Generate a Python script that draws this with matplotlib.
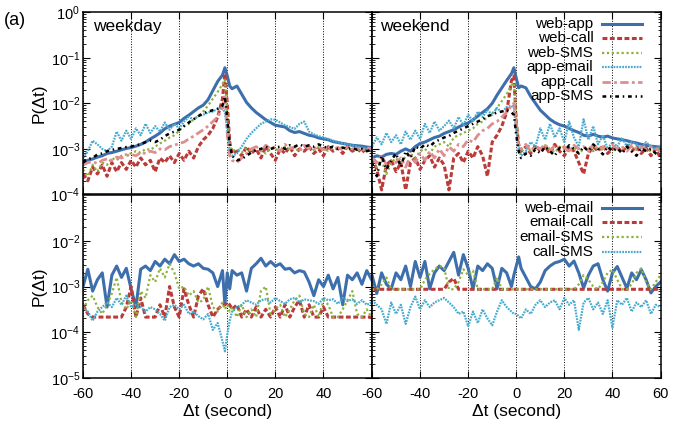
import numpy as np
import matplotlib.pyplot as plt
from matplotlib.ticker import LogLocator, NullFormatter, LogFormatterMathtext

plt.rcParams['font.family'] = ['Liberation Sans', 'DejaVu Sans']
plt.rcParams['mathtext.fontset'] = 'custom'
plt.rcParams['mathtext.rm'] = 'Liberation Sans'
plt.rcParams['mathtext.it'] = 'Liberation Sans:italic'
plt.rcParams['axes.unicode_minus'] = False

# time lag (s): every 2 s, plus -1 and 1 around the peak
dt = np.r_[np.arange(-60, -1, 2), -1, 0, 1, np.arange(2, 61, 2)]

# values are log10 P(dt)
# ---- weekday, top
wd_web_app = [-3.30, -3.25, -3.22, -3.18, -3.15, -3.10, -3.08, -3.05, -3.02, -2.99, -2.97, -2.94, -2.90, -2.85, -2.78,
              -2.72, -2.65, -2.56, -2.50, -2.46, -2.42, -2.33, -2.26, -2.18, -2.10, -2.04, -1.92, -1.72, -1.52, -1.38,
              -1.22, -1.40, -1.62,
              -1.68, -1.62, -1.80, -1.98, -2.10, -2.20, -2.28, -2.36, -2.42, -2.48, -2.50, -2.52, -2.60, -2.64, -2.62,
              -2.66, -2.70, -2.72, -2.76, -2.78, -2.80, -2.84, -2.86, -2.88, -2.90, -2.92, -2.93, -2.94, -2.96, -2.97]
wd_web_call = [-3.55, -3.70, -3.40, -3.55, -3.35, -3.60, -3.30, -3.50, -3.30, -3.45, -3.25, -3.40, -3.20, -3.35, -3.25,
               -3.50, -3.20, -3.30, -3.15, -3.30, -3.10, -3.25, -3.05, -3.20, -2.95, -2.80, -2.70, -2.55, -2.30, -1.90,
               -1.35, -2.00, -2.85,
               -3.10, -3.05, -3.15, -2.95, -3.10, -3.00, -3.20, -2.95, -3.10, -3.25, -3.00, -3.10, -2.95, -3.15, -3.00,
               -3.05, -2.95, -3.10, -3.00, -3.15, -2.95, -3.05, -2.98, -3.10, -2.95, -3.05, -3.00, -3.08, -2.98, -3.05]
wd_web_sms = [-3.45, -3.60, -3.35, -3.50, -3.30, -3.35, -3.20, -3.25, -3.15, -3.12, -3.10, -3.05, -3.08, -3.00, -3.02,
              -2.95, -2.88, -2.82, -2.75, -2.70, -2.60, -2.50, -2.45, -2.35, -2.28, -2.18, -2.05, -1.90, -1.75, -1.58,
              -1.48, -2.20, -2.90,
              -3.05, -3.00, -3.08, -2.98, -3.05, -2.95, -3.02, -3.10, -2.98, -3.00, -3.05, -2.95, -3.02, -2.98, -3.05,
              -2.95, -3.00, -3.02, -2.96, -3.00, -3.04, -2.98, -3.00, -2.96, -3.02, -2.98, -3.00, -3.04, -2.98, -3.02]
wd_app_email = [-3.20, -3.05, -2.82, -2.90, -3.00, -3.05, -2.95, -2.62, -2.82, -2.60, -2.78, -2.55, -2.70, -2.45, -2.65,
                -2.50, -2.62, -2.42, -2.58, -2.45, -2.55, -2.40, -2.30, -2.35, -2.28, -2.25, -2.20, -2.18, -2.12, -2.10,
                -2.20, -2.60, -3.05,
                -3.15, -3.10, -2.95, -2.78, -2.65, -2.55, -2.45, -2.40, -2.35, -2.36, -2.42, -2.48, -2.52, -2.56, -2.45,
                -2.40, -2.62, -2.68, -2.72, -2.75, -2.78, -2.82, -2.85, -2.88, -2.90, -2.92, -2.95, -2.97, -3.00, -3.02]
wd_app_call = [-3.35, -3.30, -3.28, -3.32, -3.25, -3.22, -3.25, -3.18, -3.20, -3.15, -3.12, -3.15, -3.08, -3.10, -3.05,
               -3.08, -3.00, -3.02, -2.95, -2.92, -2.88, -2.85, -2.78, -2.72, -2.65, -2.58, -2.50, -2.40, -2.30, -2.10,
               -1.80, -2.70, -3.15,
               -3.25, -3.30, -3.20, -3.10, -3.00, -2.95, -3.05, -2.92, -3.00, -2.95, -3.05, -2.90, -3.00, -2.95, -3.02,
               -2.92, -2.98, -3.00, -2.95, -3.02, -2.95, -3.00, -2.97, -3.02, -2.96, -3.00, -2.98, -3.03, -2.97, -3.00]
wd_app_sms = [-3.30, -3.22, -3.20, -3.12, -3.10, -3.05, -3.02, -3.00, -2.98, -2.96, -2.95, -2.92, -2.90, -2.85, -2.82,
              -2.85, -2.80, -2.72, -2.66, -2.62, -2.58, -2.50, -2.42, -2.35, -2.28, -2.22, -2.18, -2.15, -2.12, -2.05,
              -1.85, -2.35, -2.90,
              -3.15, -3.25, -3.22, -3.15, -3.08, -3.02, -3.00, -2.95, -3.00, -2.97, -2.95, -3.00, -2.92, -2.95, -2.90,
              -2.95, -2.92, -2.95, -2.90, -2.95, -2.98, -2.95, -3.00, -2.97, -3.00, -2.98, -3.02, -3.00, -3.05, -3.02]

# ---- weekend, top
we_web_app = [-3.20, -3.15, -3.18, -3.12, -3.10, -3.12, -3.05, -3.00, -3.05, -2.95, -2.88, -2.85, -2.80, -2.75, -2.72,
              -2.66, -2.62, -2.58, -2.52, -2.47, -2.43, -2.36, -2.28, -2.20, -2.12, -2.00, -1.82, -1.66, -1.50, -1.35,
              -1.22, -1.45, -1.66,
              -1.62, -1.66, -1.85, -2.00, -2.15, -2.25, -2.35, -2.42, -2.47, -2.50, -2.55, -2.60, -2.64, -2.70, -2.72,
              -2.68, -2.72, -2.74, -2.72, -2.76, -2.78, -2.80, -2.82, -2.85, -2.87, -2.90, -2.92, -2.94, -2.95, -2.97]
we_web_call = [-3.20, -3.45, -3.90, -3.35, -3.25, -3.50, -3.30, -3.90, -3.30, -3.20, -3.45, -3.25, -3.15, -3.40, -3.20,
               -3.35, -3.90, -3.20, -3.10, -3.30, -3.05, -3.20, -2.95, -3.15, -3.60, -2.85, -2.70, -2.50, -2.20, -1.50,
               -1.40, -2.40, -2.90,
               -3.05, -2.95, -3.10, -2.92, -3.05, -2.95, -3.10, -2.90, -3.05, -3.15, -2.95, -3.05, -3.30, -3.55, -3.10,
               -2.95, -3.05, -2.92, -3.10, -3.00, -2.95, -3.08, -2.92, -3.05, -2.95, -3.10, -2.98, -3.15, -3.00, -3.20]
we_web_sms = [-3.30, -3.40, -3.25, -3.55, -3.30, -3.20, -3.35, -3.15, -3.10, -3.20, -3.05, -3.00, -3.10, -2.95, -2.90,
              -2.85, -2.95, -2.75, -2.70, -2.65, -2.60, -2.55, -2.45, -2.40, -2.30, -2.22, -2.10, -1.95, -1.80, -1.60,
              -1.55, -2.30, -2.95,
              -3.05, -2.98, -3.05, -2.95, -3.02, -2.92, -3.00, -3.08, -2.95, -3.00, -3.05, -2.95, -3.10, -3.00, -2.95,
              -3.05, -2.98, -3.02, -2.95, -3.00, -3.05, -2.97, -3.00, -2.95, -3.02, -2.98, -3.00, -3.05, -2.97, -3.00]
we_app_email = [-2.95, -2.75, -2.90, -2.65, -2.85, -2.70, -2.90, -2.62, -2.80, -2.60, -2.78, -2.45, -2.65, -2.40, -2.60,
                -2.50, -2.38, -2.55, -2.30, -2.48, -2.25, -2.40, -2.18, -2.30, -2.15, -2.25, -2.10, -2.20, -2.08, -2.05,
                -2.10, -2.60, -3.00,
                -3.15, -3.05, -2.85, -2.95, -2.55, -2.80, -2.45, -2.75, -2.55, -2.85, -2.40, -2.75, -2.95, -2.35, -2.80,
                -2.50, -2.90, -2.70, -3.00, -2.85, -2.95, -2.75, -2.95, -2.85, -2.90, -3.00, -2.85, -2.95, -3.00, -2.92]
we_app_call = [-3.20, -3.30, -3.15, -3.35, -3.25, -3.30, -3.20, -3.40, -3.15, -3.30, -3.10, -3.25, -3.05, -3.20, -3.00,
               -3.15, -2.95, -3.05, -2.90, -2.95, -2.80, -2.85, -2.70, -2.60, -2.55, -2.45, -2.40, -2.30, -2.20, -2.05,
               -2.00, -2.45, -2.95,
               -3.00, -2.90, -3.05, -2.95, -3.00, -2.90, -3.05, -2.92, -3.00, -2.95, -3.08, -2.92, -3.00, -2.95, -3.05,
               -2.90, -3.00, -2.95, -3.05, -2.92, -3.00, -2.95, -3.05, -2.92, -3.00, -2.95, -3.02, -2.95, -3.00, -3.05]
we_app_sms = [-3.30, -3.60, -3.15, -3.45, -3.25, -3.10, -3.40, -3.05, -3.20, -2.95, -3.00, -2.90, -2.95, -2.85, -2.80,
              -2.75, -2.72, -2.65, -2.60, -2.55, -2.50, -2.45, -2.40, -2.35, -2.28, -2.25, -2.20, -2.18, -2.15, -2.20,
              -2.25, -2.70, -3.05,
              -3.20, -3.10, -3.15, -3.00, -3.10, -2.95, -3.05, -3.15, -2.98, -3.05, -2.92, -3.00, -3.10, -2.95, -3.05,
              -2.90, -3.00, -3.12, -2.95, -3.05, -2.98, -3.10, -2.95, -3.05, -3.15, -2.98, -3.05, -3.00, -3.10, -3.15]

# ---- weekday, bottom
wd_web_email = [-3.00, -2.62, -3.10, -2.85, -2.70, -3.45, -2.75, -2.55, -2.80, -2.60, -3.05, -3.45, -2.62, -2.55, -2.65,
                -2.45, -2.55, -2.40, -2.50, -2.30, -2.45, -2.40, -2.50, -2.55, -2.50, -2.60, -2.62, -2.70, -3.00, -2.65,
                -3.40, -2.70, -3.05,
                -2.65, -2.75, -2.70, -3.10, -2.60, -2.50, -2.38, -2.55, -2.45, -2.55, -2.50, -2.62, -2.60, -2.70, -2.65,
                -2.68, -2.90, -3.20, -2.85, -3.00, -2.75, -3.05, -2.80, -3.40, -2.75, -2.85, -2.70, -2.95, -2.65, -2.85]
wd_email_call = [-3.40, -3.60, -3.67, -3.67, -3.67, -3.67, -3.67, -3.67, -3.67, -3.45, -3.00, -3.67, -3.25, -3.67, -3.67,
                 -3.67, -3.40, -3.67, -3.00, -3.45, -3.67, -3.05, -3.40, -3.67, -3.20, -3.05, -3.40, -3.67, -3.50, -3.40,
                 -3.40, -3.35, -3.40,
                 -3.50, -3.40, -3.67, -3.50, -3.67, -3.45, -3.67, -3.50, -3.67, -3.45, -3.67, -3.40, -3.67, -3.45, -3.30,
                 -3.67, -3.40, -3.67, -3.67, -3.45, -3.67, -3.67, -3.67, -3.67, -3.67, -3.67, -3.67, -3.67, -3.67, -3.67]
wd_email_sms = [-3.50, -3.30, -3.20, -3.45, -3.60, -3.40, -3.15, -2.80, -3.35, -3.50, -3.30, -3.67, -3.10, -3.25, -2.75,
                -2.90, -2.60, -2.80, -2.50, -2.70, -3.05, -3.00, -3.20, -3.10, -3.35, -3.30, -3.00, -3.45, -3.55, -3.35,
                -3.50, -3.40, -3.55,
                -3.45, -3.67, -3.40, -3.67, -3.50, -3.67, -3.10, -3.00, -3.60, -3.50, -3.40, -3.67, -3.50, -3.30, -3.20,
                -3.60, -3.67, -3.40, -3.67, -3.30, -3.40, -3.67, -3.67, -3.50, -3.30, -3.10, -3.60, -3.67, -3.50, -3.67]
wd_call_sms = [-3.45, -3.55, -3.75, -3.55, -3.45, -3.35, -3.45, -3.25, -3.40, -3.20, -3.45, -3.40, -3.45, -3.55, -3.45,
               -3.50, -3.60, -3.75, -3.45, -3.40, -3.50, -3.40, -3.60, -3.55, -3.65, -3.72, -3.60, -3.95, -3.80, -4.20,
               -4.42, -4.05, -3.75,
               -3.55, -3.45, -3.40, -3.30, -3.35, -3.40, -3.30, -3.28, -3.35, -3.25, -3.32, -3.38, -3.28, -3.25, -3.35,
               -3.28, -3.30, -3.32, -3.38, -3.25, -3.30, -3.28, -3.38, -3.25, -3.32, -3.28, -3.38, -3.30, -3.40, -3.35]

# ---- weekend, bottom
we_web_email = [-2.75, -3.15, -2.70, -2.95, -3.05, -2.70, -2.85, -2.55, -3.00, -2.45, -2.80, -2.45, -3.05, -2.70, -2.55,
                -2.65, -2.45, -2.25, -2.75, -2.30, -2.60, -3.05, -2.55, -2.65, -2.50, -2.60, -3.05, -2.60, -2.70, -3.00,
                -2.75, -2.55, -2.35,
                -2.60, -2.80, -3.00, -3.05, -2.90, -2.65, -2.55, -2.48, -2.45, -2.40, -2.55, -2.44, -2.70, -3.03, -2.75,
                -2.55, -2.50, -2.85, -3.10, -2.70, -2.56, -2.80, -3.04, -2.70, -2.85, -2.63, -2.85, -3.14, -3.00, -2.90]
we_email_call = [-3.06, -3.06, -3.06, -3.06, -3.06, -3.06, -3.06, -3.06, -3.06, -3.06, -3.06, -3.06, -3.06, -3.06, -3.06,
                 -3.06, -2.90, -2.82, -3.06, -3.06, -3.06, -3.06, -3.06, -3.06, -3.06, -3.06, -3.06, -3.06, -3.06, -3.06,
                 -3.06, -3.06, -3.06,
                 -3.06, -3.06, -3.06, -3.06, -3.06, -3.06, -3.06, -3.06, -3.06, -3.06, -3.06, -3.06, -3.06, -3.06, -3.06,
                 -3.06, -3.06, -3.06, -3.06, -3.06, -3.06, -3.06, -3.06, -3.06, -3.06, -3.06, -3.06, -3.06, -3.06, -3.06]
we_email_sms = [-3.06, -3.06, -2.95, -2.80, -3.06, -3.06, -3.06, -3.06, -3.06, -3.06, -3.06, -2.85, -2.72, -2.62, -2.55,
                -2.58, -3.06, -3.06, -2.90, -2.62, -2.75, -2.65, -3.06, -3.06, -3.06, -3.06, -2.80, -3.06, -3.06, -3.06,
                -3.06, -3.06, -3.06,
                -3.06, -3.06, -3.06, -3.06, -3.06, -3.06, -3.06, -3.06, -3.06, -3.06, -3.06, -3.06, -2.95, -2.75, -2.85,
                -3.00, -3.06, -2.90, -2.70, -2.63, -2.85, -3.06, -3.06, -2.95, -2.70, -2.60, -2.90, -3.06, -2.90, -2.75]
we_call_sms = [-3.30, -3.40, -3.50, -3.82, -3.35, -3.60, -3.40, -3.82, -3.45, -3.22, -3.50, -3.30, -3.45, -3.35, -3.30,
               -3.25, -3.35, -3.45, -3.60, -3.55, -3.87, -3.55, -3.80, -3.50, -3.70, -3.85, -3.55, -3.30, -3.45, -3.55,
               -3.60, -3.60, -3.65,
               -3.70, -3.50, -3.60, -3.40, -3.30, -3.45, -3.35, -3.30, -3.50, -3.25, -3.40, -3.30, -3.95, -3.35, -3.25,
               -3.50, -3.35, -3.60, -3.30, -3.90, -3.30, -3.40, -3.25, -3.55, -3.35, -3.45, -3.30, -3.60, -3.40, -3.45]

xtick_vals = [-60, -40, -20, 0, 20, 40, 60]
xtick_text = ['-60', '-40', '-20', '0', '20', '40', '60']

blue, red, green, cyan, pink = '#3e6fad', '#bb3a3a', '#8db13e', '#47abcf', '#de8e8e'
styles = {
    'web-app':   dict(color=blue, lw=2.2, ls='-'),
    'web-call':  dict(color=red, lw=2.2, ls=(0, (1.6, 0.8))),
    'web-SMS':   dict(color=green, lw=1.6, ls=(0, (1, 1.2))),
    'app-email': dict(color=cyan, lw=1.6, ls=(0, (0.8, 0.5))),
    'app-call':  dict(color=pink, lw=2.0, ls=(0, (3, 1.2, 1, 1.2))),
    'app-SMS':   dict(color='k', lw=1.8, ls=(0, (1.5, 1.5, 0.6, 1.5))),
}
styles['web-email'] = styles['web-app']
styles['email-call'] = styles['web-call']
styles['email-SMS'] = styles['web-SMS']
styles['call-SMS'] = styles['app-email']

top_names = ['web-app', 'web-call', 'web-SMS', 'app-email', 'app-call', 'app-SMS']
bot_names = ['web-email', 'email-call', 'email-SMS', 'call-SMS']
panels = {
    (0, 0): [wd_web_app, wd_web_call, wd_web_sms, wd_app_email, wd_app_call, wd_app_sms],
    (0, 1): [we_web_app, we_web_call, we_web_sms, we_app_email, we_app_call, we_app_sms],
    (1, 0): [wd_web_email, wd_email_call, wd_email_sms, wd_call_sms],
    (1, 1): [we_web_email, we_email_call, we_email_sms, we_call_sms],
}

fig = plt.figure(figsize=(6.97, 4.30), dpi=100)
lefts = [0.1191, 0.5337]
bottoms = [0.5477, 0.1216]
w, h = 0.4140, 0.4240

axes = {}
for (r, c), series in panels.items():
    ax = fig.add_axes([lefts[c], bottoms[r], w, h])
    axes[(r, c)] = ax
    names = top_names if r == 0 else bot_names
    for name, vals in zip(names, series):
        ax.plot(dt, 10 ** np.array(vals), **styles[name])
    ax.set_yscale('log')
    ax.set_xlim(-60, 60)
    if r == 0:
        ax.set_ylim(1e-4, 1)
        ax.set_yticks([1e-4, 1e-3, 1e-2, 1e-1, 1])
    else:
        ax.set_ylim(1e-5, 1e-1)
        ax.set_yticks([1e-5, 1e-4, 1e-3, 1e-2])
    ax.yaxis.set_major_formatter(LogFormatterMathtext())
    ax.yaxis.set_minor_locator(LogLocator(base=10, subs=np.arange(2, 10)))
    ax.yaxis.set_minor_formatter(NullFormatter())
    labels = list(xtick_text)
    if c == 0:
        labels[-1] = ''  # the right panel's -60 sits there
    ax.set_xticks(xtick_vals, labels)
    ax.xaxis.grid(True, color='k', ls=':', lw=0.7)
    ax.tick_params(which='both', direction='in', top=True, right=True, labelsize=10.5)
    ax.tick_params(axis='y', pad=2)
    ax.tick_params(axis='x', pad=7)
    ax.tick_params(which='major', length=5, width=0.8)
    ax.tick_params(which='minor', length=2.5, width=0.6)
    for s in ax.spines.values():
        s.set_linewidth(1.1)
    if r == 0:
        ax.tick_params(labelbottom=False)
    else:
        ax.set_xlabel('Δt (second)', fontsize=12.5, labelpad=2)
    if c == 1:
        ax.tick_params(labelleft=False)
    else:
        ax.set_ylabel('P(Δt)', fontsize=12.5, labelpad=3)

axes[(0, 0)].text(0.035, 0.965, 'weekday', transform=axes[(0, 0)].transAxes,
                  fontsize=12.5, va='top', ha='left')
axes[(0, 1)].text(0.028, 0.965, 'weekend', transform=axes[(0, 1)].transAxes,
                  fontsize=12.5, va='top', ha='left')
fig.text(0.006, 0.953, '(a)', fontsize=13, va='center', ha='left')


def key(ax, names, y0, step):
    for i, name in enumerate(names):
        y = y0 - i * step
        ax.text(0.767, y, name, transform=ax.transAxes, ha='right', va='center', fontsize=11)
        ax.plot([0.798, 0.937], [y, y], transform=ax.transAxes, **styles[name])


key(axes[(0, 1)], top_names, 0.937, 0.0797)
key(axes[(1, 1)], bot_names, 0.933, 0.081)

fig.savefig('out.png', dpi=100)
